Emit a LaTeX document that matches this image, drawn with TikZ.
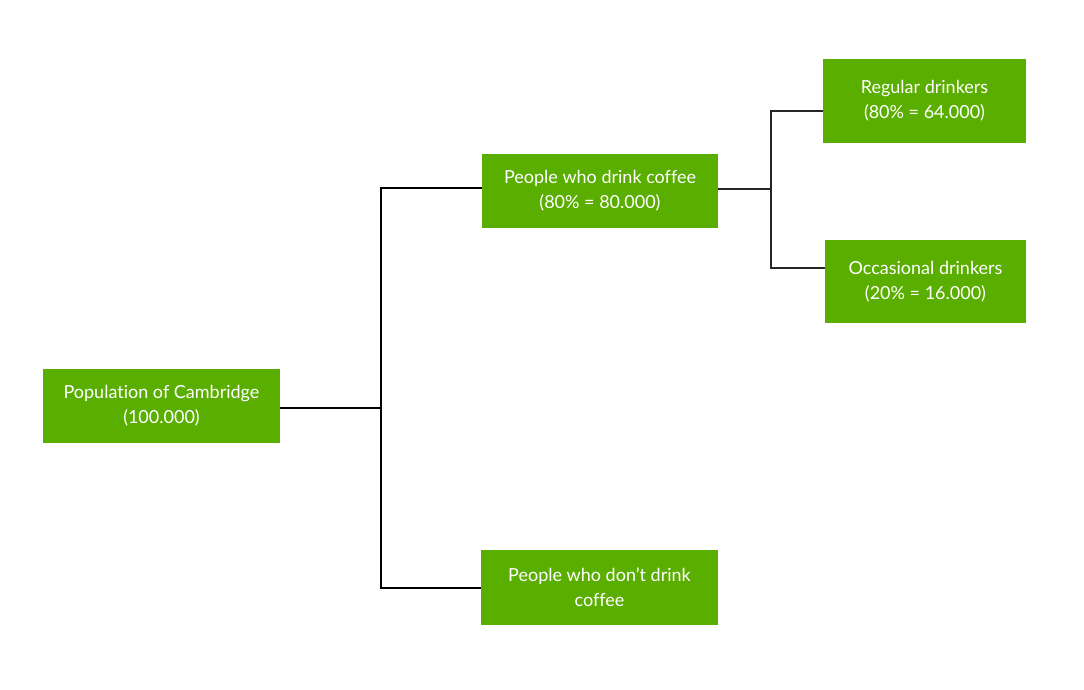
\documentclass[tikz,border=0pt]{standalone}
\usepackage{fontspec}
\setmainfont{Lato}[Ligatures={NoCommon}]
\definecolor{leafgreen}{RGB}{90,174,0}

\begin{document}
\begin{tikzpicture}
[
	x=1pt, y=-1pt,
	box/.style={rectangle,fill=leafgreen,text=white,align=center,inner sep=0pt,
		font=\fontsize{18}{25}\selectfont},
	trunk/.style={black,line width=2pt},
	twig/.style={black!85,line width=1.1pt}
]

	% canvas
	\useasboundingbox (0,0) rectangle (1084,690);

	% boxes
	\node[box,minimum width=237pt,minimum height=74pt] at (161.5,406) (pop) {Population of Cambridge\\(100.000)};
	\node[box,minimum width=236pt,minimum height=74pt] at (600,191) (drink) {People who drink coffee\\(80\% = 80.000)};
	\node[box,minimum width=237pt,minimum height=75pt] at (599.5,587.5) (nodrink) {People who don’t drink\\coffee};
	\node[box,minimum width=203pt,minimum height=84pt] at (924.5,101) (regular) {Regular drinkers\\(80\% = 64.000)};
	\node[box,minimum width=201pt,minimum height=83pt] at (925.5,281.5) (occasional) {Occasional drinkers\\(20\% = 16.000)};

	% first split
	\coordinate (fork) at (381,408);
	\draw[trunk] (pop.east |- fork) -- (fork);
	\draw[trunk] ([yshift=3pt]drink.west) -| (fork) |- (nodrink.west);

	% second split
	\coordinate (twigfork) at (771,189);
	\draw[twig] ([yshift=2pt]drink.east) -- (twigfork);
	\draw[twig] ([yshift=-10pt]regular.west) -| (twigfork) |- ([yshift=13.5pt]occasional.west);

\end{tikzpicture}
\end{document}
